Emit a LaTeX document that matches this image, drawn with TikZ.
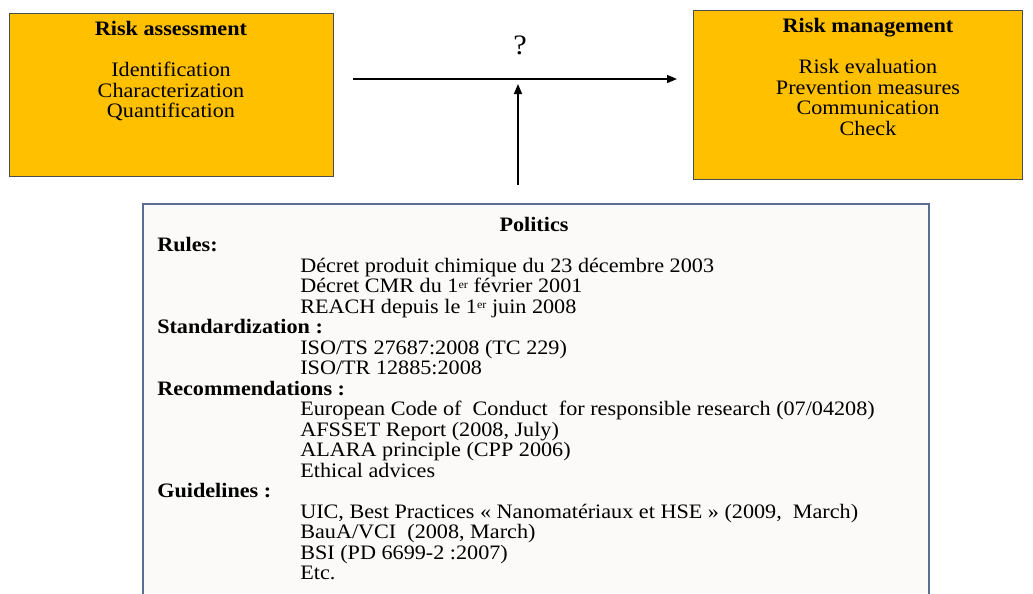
\documentclass[tikz,border=0pt]{standalone}
\usepackage{fontspec}
\setmainfont{Liberation Serif}[FakeStretch=1.08]
\usetikzlibrary{arrows.meta}
\usetikzlibrary{positioning}
\definecolor{riskgold}{HTML}{FFC000}
\definecolor{politicsfill}{HTML}{FBFAF8}
\definecolor{politicsline}{HTML}{5A6E94}
\newcommand{\txtsize}{\fontsize{14.6}{14.58}\selectfont}
\newcommand{\entry}{\hspace*{101.7pt}}
\newcommand{\ersup}{\raisebox{0.45ex}{\fontsize{8}{8}\selectfont er}}

\begin{document}
\begin{tikzpicture}[x=0.025cm, y=-0.025cm,
	riskbox/.style={draw=black!70, fill=riskgold, line width=0.6pt},
	blocktext/.style={align=center, inner sep=0pt, anchor=north, font=\txtsize},
	flow/.style={line width=1pt, -{Triangle[length=0.25cm, width=0.2cm]}}]
	\useasboundingbox (0,0) rectangle (1033,593);
	\clip (0,0) rectangle (1033,593);
	% the two yellow boxes
	\node[riskbox, minimum width=8.1cm, minimum height=4.075cm] (assess) at (171,94.5) {};
	\node[riskbox, minimum width=8.225cm, minimum height=4.225cm] (manage) at (857.5,94.5) {};
	\node[blocktext] (assesstext) at (171,21) {\textbf{Risk assessment}\\[14.58pt]
		Identification\\ Characterization\\ Quantification};
	\node[blocktext] (managetext) at (868,18) {\textbf{Risk management}\\[14.58pt]
		Risk evaluation\\ Prevention measures\\ Communication\\ Check};
	% politics box at the bottom
	\filldraw[fill=politicsfill, draw=politicsline, line width=1pt] (143,204) rectangle (929,640);
	\node[inner sep=0pt, font=\txtsize\bfseries] (politics) at (534,224) {Politics};
	\node[inner sep=0pt, anchor=north west, align=left, font=\txtsize] (rules) at (157,237) {%
		\textbf{Rules:}\\
		\entry Décret produit chimique du 23 décembre 2003\\
		\entry Décret CMR du 1\ersup{} février 2001\\
		\entry REACH depuis le 1\ersup{} juin 2008\\
		\textbf{Standardization :}\\
		\entry ISO/TS 27687:2008 (TC 229)\\
		\entry ISO/TR 12885:2008\\
		\textbf{Recommendations :}\\
		\entry European Code of~ Conduct~ for responsible research (07/04208)\\
		\entry AFSSET Report (2008, July)\\
		\entry ALARA principle (CPP 2006)\\
		\entry Ethical advices\\
		\textbf{Guidelines :}\\
		\entry UIC, Best Practices « Nanomatériaux et HSE » (2009,~ March)\\
		\entry BauA/VCI~ (2008, March)\\
		\entry BSI (PD 6699-2 :2007)\\
		\entry Etc.};
	% arrows
	\coordinate (qstart) at (353,79);
	\coordinate (qend) at (677,79);
	\coordinate (pstart) at (518,185);
	\coordinate (pend) at (518,84);
	\draw[flow] (qstart) -- (qend);
	\draw[flow] (pstart) -- (pend);
	\node[font=\fontsize{20}{24}\selectfont] (question) at (520,45) {?};
\end{tikzpicture}
\end{document}
